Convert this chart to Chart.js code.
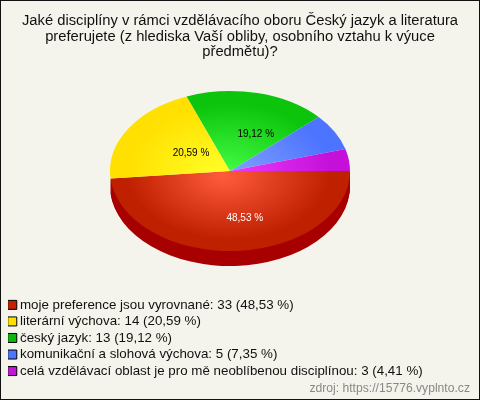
<!DOCTYPE html>
<html><head><meta charset="utf-8">
<script src="https://cdn.jsdelivr.net/npm/chart.js@4"></script>
<style>
html,body{margin:0;padding:0;background:#f5f4ec}
#wrap{position:relative;width:480px;height:400px;overflow:hidden}
#wrap:after{content:"";position:absolute;inset:0;border:1px solid #111;box-sizing:border-box;pointer-events:none}
canvas{display:block}
</style></head><body>
<div id="wrap"><canvas id="c" width="480" height="400"></canvas></div>
<script>
const titleLines = ["Jaké disciplíny v rámci vzdělávacího oboru Český jazyk a literatura","preferujete (z hlediska Vaší obliby, osobního vztahu k výuce","předmětu)?"];
const categories = ["moje preference jsou vyrovnané","literární výchova","český jazyk","komunikační a slohová výchova","celá vzdělávací oblast je pro mě neoblíbenou disciplínou"];
const values = [33,14,13,5,3];
const percents = ["48,53","20,59","19,12","7,35","4,41"];
const innerColors = ["#ff5c3c","#ffff28","#46ff46","#84a4ff","#f23cff"];
const outerColors = ["#bf2000","#ffe000","#0cc40c","#4c74ff","#c410d8"];
const legendColors = ["#c32200","#ffe000","#0cb80c","#4d74ff","#c315d8"];
const sideColor = "#a80000";
const showLabel = [true,true,true,false,false];
const labelColors = ["#ffffff","#000000","#000000","#000000","#000000"];
const source = "zdroj: https://15776.vyplnto.cz";

const PIE = {cx:230, cy:171, rx:120, ry:80, depth:15};
const FONT = "'Liberation Sans', Arial, sans-serif";

function applyPieTransform(chart, ctx){
  const el = chart.getDatasetMeta(0).data[0];
  const r = el.outerRadius, a = chart.chartArea;
  const mx = (a.left+a.right)/2, my = (a.top+a.bottom)/2;
  ctx.translate(PIE.cx, PIE.cy);
  ctx.scale(PIE.rx/r, PIE.ry/r);
  ctx.translate(-mx, -my);
}

const pie3d = {
  id:'pie3d',
  afterLayout(chart){
    const lg = chart.legend;
    lg.left = 8.08; lg.right = 475; lg.top = 295; lg.bottom = 400;
    lg.width = lg.right-lg.left; lg.height = lg.bottom-lg.top;
  },
  beforeDatasetsDraw(chart){
    const ctx = chart.ctx, meta = chart.getDatasetMeta(0);
    ctx.save();
    applyPieTransform(chart, ctx);
    const r = meta.data[0].outerRadius, step = r/PIE.ry;
    const el = meta.data[0], o = el.options;
    el.options = Object.assign({}, o, {backgroundColor:sideColor, borderWidth:0});
    for(let d=PIE.depth; d>=1; d--){
      ctx.save(); ctx.translate(0, d*step); el.draw(ctx); ctx.restore();
    }
    el.options = o;
  },
  afterDatasetsDraw(chart){
    const ctx = chart.ctx, meta = chart.getDatasetMeta(0);
    ctx.restore();
    ctx.save();
    ctx.font = "10px "+FONT;
    ctx.textAlign='center'; ctx.textBaseline='middle';
    meta.data.forEach((el,i)=>{
      if(!showLabel[i]) return;
      const p = el.getProps(['startAngle','endAngle']);
      const m = (p.startAngle+p.endAngle)/2;
      const x = PIE.cx + Math.cos(m)*PIE.rx*0.5 + 12;
      const y = PIE.cy + Math.sin(m)*PIE.ry*0.53 + 5;
      ctx.fillStyle = labelColors[i];
      ctx.fillText(percents[i]+" %", x, y);
    });
    ctx.restore();
  }
};

new Chart(document.getElementById('c'),{
  type:'pie',
  plugins:[pie3d],
  data:{labels:categories,datasets:[{
    data:values,
    borderWidth:0,
    backgroundColor(c){
      const a = c.chart.chartArea;
      if(!a || c.dataIndex===undefined) return legendColors[c.dataIndex||0];
      const mx=(a.left+a.right)/2, my=(a.top+a.bottom)/2, r=Math.min(a.width,a.height)/2;
      const g = c.chart.ctx.createRadialGradient(mx-r*0.06,my+r*0.06,0,mx,my,r);
      g.addColorStop(0,innerColors[c.dataIndex]);
      g.addColorStop(0.85,outerColors[c.dataIndex]);
      g.addColorStop(1,outerColors[c.dataIndex]);
      return g;
    }
  }]},
  options:{
    responsive:false,animation:false,rotation:90,
    layout:{padding:{left:10,right:10}},
    plugins:{
      tooltip:{enabled:false},
      title:{display:true,text:titleLines,color:"#111",align:'center',
        font:{family:FONT,size:14.76,weight:'normal',lineHeight:1.05},
        padding:{top:13.5,bottom:0}},
      subtitle:{display:true,text:source,color:"#888888",position:'bottom',align:'end',
        font:{family:FONT,size:12.15,weight:'normal'},padding:{top:0,bottom:4}},
      legend:{display:true,position:'chartArea',align:'start',
        labels:{usePointStyle:true,boxWidth:2,boxHeight:9,padding:3.2,color:"#111",
          font:{family:FONT,size:13.35},
          generateLabels(){
            return categories.map((n,i)=>({
              text:n+": "+values[i]+" ("+percents[i]+" %)",
              fillStyle:legendColors[i],strokeStyle:"#000000",lineWidth:1,
              pointStyle:'rect',hidden:false,index:i,fontColor:"#111"
            }));
          }}}
    }
  }
});
</script></body></html>
